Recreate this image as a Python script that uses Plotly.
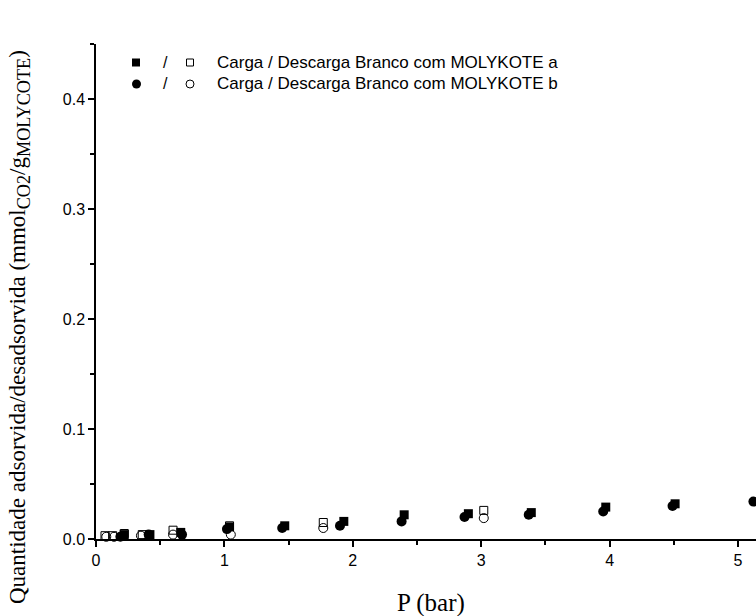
import plotly.graph_objects as go

# Carga (filled) / Descarga (open) for samples a and b
xa_carga = [0.22, 0.42, 0.66, 1.04, 1.47, 1.93, 2.40, 2.90, 3.39, 3.97, 4.51, 5.15]
ya_carga = [0.004, 0.004, 0.006, 0.011, 0.012, 0.016, 0.022, 0.023, 0.024, 0.029, 0.032, 0.037]

xb_carga = [0.19, 0.41, 0.67, 1.02, 1.45, 1.90, 2.38, 2.87, 3.37, 3.95, 4.49, 5.12]
yb_carga = [0.002, 0.004, 0.004, 0.009, 0.010, 0.012, 0.016, 0.020, 0.022, 0.025, 0.030, 0.034]

xa_desc = [0.07, 0.13, 0.22, 0.36, 0.60, 1.04, 1.77, 3.02]
ya_desc = [0.003, 0.003, 0.005, 0.004, 0.008, 0.012, 0.015, 0.026]

xb_desc = [0.08, 0.14, 0.35, 0.60, 1.05, 1.77, 3.02]
yb_desc = [0.002, 0.002, 0.003, 0.004, 0.004, 0.010, 0.019]

legend_labels = ["Carga / Descarga Branco com MOLYKOTE a",
                 "Carga / Descarga Branco com MOLYKOTE b"]
x_title = "P (bar)"
main = "<span style='font-size:23px'>{}</span>"
y_title = (main.format("Quantidade adsorvida/desadsorvida (mmol") + "<sub>CO2</sub>" +
           main.format("/g") + "<sub>MOLYCOTE</sub>" + main.format(")"))

# plot area in pixels
L, R, T, B = 96, 756, 44, 539
PW, PH = R - L, B - T


def px(x):
    return (x - L) / PW


def py(y):
    return (B - y) / PH


fig = go.Figure()
fig.add_trace(go.Scatter(x=xa_desc, y=ya_desc, mode="markers",
                         marker=dict(symbol="square-open", size=8, color="black", line=dict(width=1)),
                         cliponaxis=False))
fig.add_trace(go.Scatter(x=xb_desc, y=yb_desc, mode="markers",
                         marker=dict(symbol="circle-open", size=9, color="black", line=dict(width=1)),
                         cliponaxis=False))
fig.add_trace(go.Scatter(x=xa_carga, y=ya_carga, mode="markers",
                         marker=dict(symbol="square", size=9, color="black"),
                         cliponaxis=False))
fig.add_trace(go.Scatter(x=xb_carga, y=yb_carga, mode="markers",
                         marker=dict(symbol="circle", size=10, color="black"),
                         cliponaxis=False))

axis_common = dict(showline=True, linecolor="black", linewidth=1.5, ticks="outside",
                   ticklen=6, tickwidth=1.5, tickcolor="black", showgrid=False,
                   zeroline=False, tickfont=dict(family="Liberation Sans, Arial", size=16, color="black"))

fig.update_xaxes(range=[0, 5.14], dtick=1, tick0=0,
                 minor=dict(ticks="outside", dtick=0.5, ticklen=4, tickwidth=1.5, tickcolor="black"),
                 **axis_common)
fig.update_yaxes(range=[0, 0.45], dtick=0.1, tick0=0, tickformat=".1f",
                 minor=dict(ticks="outside", dtick=0.05, ticklen=4, tickwidth=1.5, tickcolor="black"),
                 **axis_common)

annotations = []
shapes = []
rows_y = [62.5, 84]
for i, lab in enumerate(legend_labels):
    yy = py(rows_y[i])
    if i == 0:
        shapes.append(dict(type="rect", xref="paper", yref="paper", xsizemode="pixel", ysizemode="pixel",
                           xanchor=px(136), yanchor=yy, x0=-4, x1=4, y0=-4, y1=4,
                           fillcolor="black", line=dict(width=0)))
        shapes.append(dict(type="rect", xref="paper", yref="paper", xsizemode="pixel", ysizemode="pixel",
                           xanchor=px(190), yanchor=yy, x0=-3.5, x1=3.5, y0=-3.5, y1=3.5,
                           fillcolor="white", line=dict(width=1, color="black")))
    else:
        shapes.append(dict(type="circle", xref="paper", yref="paper", xsizemode="pixel", ysizemode="pixel",
                           xanchor=px(136.5), yanchor=yy, x0=-4.5, x1=4.5, y0=-4.5, y1=4.5,
                           fillcolor="black", line=dict(width=0)))
        shapes.append(dict(type="circle", xref="paper", yref="paper", xsizemode="pixel", ysizemode="pixel",
                           xanchor=px(190), yanchor=yy, x0=-4, x1=4, y0=-4, y1=4,
                           fillcolor="white", line=dict(width=1, color="black")))
    annotations.append(dict(xref="paper", yref="paper", x=px(165), y=yy,
                            text="/", showarrow=False, xanchor="center", yanchor="middle",
                            font=dict(family="Liberation Sans, Arial", size=16, color="black")))
    annotations.append(dict(xref="paper", yref="paper", x=px(215), y=yy,
                            text=lab, showarrow=False, xanchor="left", yanchor="middle",
                            font=dict(family="Liberation Sans, Arial", size=17, color="black")))

annotations.append(dict(xref="paper", yref="paper", x=px(431), y=py(603),
                        text=x_title, showarrow=False, xanchor="center", yanchor="middle",
                        font=dict(family="Liberation Serif, Times New Roman", size=25, color="black")))
annotations.append(dict(xref="paper", yref="paper", x=px(19), y=py(327),
                        text=y_title, showarrow=False, xanchor="center", yanchor="middle",
                        textangle=-90,
                        font=dict(family="Liberation Serif, Times New Roman", size=26, color="black")))

fig.update_layout(width=756, height=616, showlegend=False,
                  margin=dict(l=L, r=756 - R, t=T, b=616 - B),
                  plot_bgcolor="white", paper_bgcolor="white",
                  annotations=annotations, shapes=shapes)

fig.write_html("out.html", config={"displayModeBar": False},
               post_script="document.body.style.margin='0';document.body.style.overflow='hidden';")
